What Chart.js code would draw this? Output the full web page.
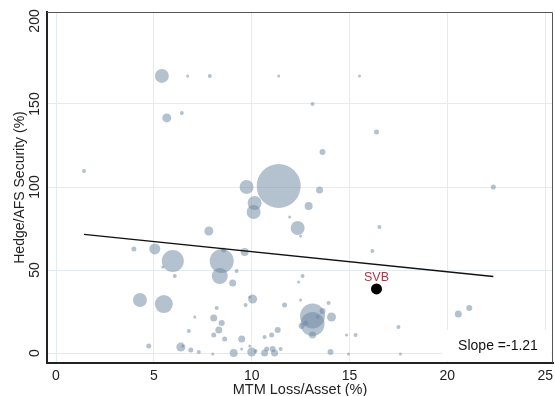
<!DOCTYPE html>
<html>
<head>
<meta charset="utf-8">
<script src="https://cdn.jsdelivr.net/npm/chart.js@4/dist/chart.umd.min.js"></script>
<style>
  html, body { margin: 0; padding: 0; background: #fff; }
  #wrap { width: 555px; height: 396px; }
</style>
</head>
<body>
<div id="wrap"><canvas id="chart" width="555" height="396"></canvas></div>
<script>
(() => {
  // Banks: MTM loss / assets (%), hedged share of AFS securities (%), bubble size (assets)
  const mtmLoss = [
    5.41, 6.73, 7.86, 11.38, 15.51, 5.66, 6.43, 1.43, 13.11, 16.38,
    13.62, 13.47, 22.35, 11.38, 9.74, 10.15, 10.10, 12.91, 11.94, 12.35,
    12.50, 7.81, 3.98, 5.05, 5.97, 5.46, 6.07, 8.47, 8.57, 9.64,
    9.23, 8.37, 12.60, 12.40, 16.53, 16.17, 9.03, 4.29, 5.51, 10.05,
    9.90, 8.21, 9.69, 11.68, 12.50, 13.93, 13.11, 13.11, 13.62, 14.08,
    13.37, 12.76, 12.55, 13.11, 8.06, 8.47, 7.09, 6.79, 8.06, 8.32,
    8.62, 9.49, 10.66, 11.02, 11.33, 4.74, 6.38, 6.48, 6.89, 7.30,
    8.01, 9.08, 9.49, 9.90, 10.00, 10.20, 10.66, 10.77, 11.07, 11.17,
    11.48, 14.03, 14.95, 17.60, 14.85, 15.31, 17.50, 20.56, 21.12
  ];
  const hedgeAfs = [
    166.9, 166.9, 166.9, 166.9, 166.9, 141.6, 144.6, 109.6, 150.0, 133.1,
    121.1, 98.2, 100.0, 100.6, 100.0, 90.4, 84.9, 88.6, 81.9, 75.3,
    70.5, 73.5, 62.7, 62.7, 55.4, 51.8, 46.4, 55.4, 62.0, 60.8,
    49.4, 46.4, 46.4, 42.8, 75.9, 61.4, 42.2, 31.9, 29.5, 32.5,
    33.7, 27.1, 28.9, 28.9, 31.9, 30.1, 22.3, 17.5, 25.3, 21.7,
    21.7, 18.1, 16.3, 10.8, 21.1, 18.1, 21.7, 13.3, 10.8, 13.9,
    8.4, 8.4, 9.6, 10.8, 13.9, 4.2, 3.6, 4.2, 1.8, 0.6,
    -0.6, 0.0, 2.4, 4.2, 0.6, 1.2, 0.0, 2.4, 2.4, 0.0,
    2.4, 0.6, -0.6, -0.6, 10.8, 10.8, 15.7, 23.5, 27.1
  ];
  const bankSize = [
    7, 1.5, 2, 1.5, 1.5, 4.5, 2, 2, 2, 2.5,
    3, 3.5, 2.5, 22, 7, 7, 7, 4, 1.5, 7,
    1.5, 4.5, 2.5, 5.5, 11, 1.5, 2, 12, 2.5, 4,
    2, 8, 2, 1.5, 2, 2, 3.5, 7, 9, 4.5,
    1.5, 2, 2, 2.5, 1.5, 2, 12.5, 12, 3, 4.5,
    2, 2.5, 3, 3.5, 3.5, 3, 1.5, 2, 2.5, 3.5,
    2.5, 3.5, 2, 2.5, 3, 2.5, 4.5, 1.5, 2.5, 2,
    1.5, 4, 1.5, 1.5, 4.5, 2, 3.5, 2.5, 3, 3.5,
    2, 3, 1.5, 1.5, 1.5, 2, 2, 3.5, 3
  ];

  // SVB highlighted separately
  const svbPoint = { x: 16.38, y: 38.6, r: 5.5 };
  const svbLabel = "SVB";

  // Linear fit
  const fitX = [1.43, 22.35];
  const fitSlope = -1.21;
  const fitIntercept = 73.2;
  const slopeText = "Slope =-1.21";

  const xTicks = [0, 5, 10, 15, 20, 25];
  const yTicks = [0, 50, 100, 150, 200];

  const FONT = "'Liberation Sans', Arial, sans-serif";

  const bubbles = mtmLoss.map((x, i) => ({ x, y: hedgeAfs[i], r: bankSize[i] }));
  const fitLine = fitX.map(x => ({ x, y: fitIntercept + fitSlope * x }));

  // frame, slope box, SVB label
  const extras = {
    id: "extras",
    beforeDatasetsDraw(chart) {
      const { ctx, chartArea: a } = chart;
      ctx.save();
      ctx.strokeStyle = "#555";
      ctx.lineWidth = 1;
      ctx.beginPath();
      ctx.moveTo(a.left, a.top + 0.5);
      ctx.lineTo(a.right - 0.5, a.top + 0.5);
      ctx.lineTo(a.right - 0.5, a.bottom);
      ctx.stroke();
      // slope legend box
      ctx.fillStyle = "#fff";
      ctx.fillRect(a.right - 111, a.bottom - 33, 109, 31);
      ctx.restore();
    },
    afterDatasetsDraw(chart) {
      const { ctx, chartArea: a, scales } = chart;
      ctx.save();
      ctx.fillStyle = "#111";
      ctx.font = "14px " + FONT;
      ctx.textAlign = "center";
      ctx.textBaseline = "middle";
      ctx.fillText(slopeText, a.right - 55, a.bottom - 17);
      ctx.fillStyle = "#a33a4a";
      ctx.font = "12.5px " + FONT;
      ctx.fillText(svbLabel, scales.x.getPixelForValue(svbPoint.x), scales.y.getPixelForValue(svbPoint.y) - 11);
      ctx.restore();
    }
  };

  new Chart(document.getElementById("chart"), {
    data: {
      datasets: [
        {
          type: "bubble",
          data: [svbPoint],
          backgroundColor: "#000",
          borderWidth: 0,
          order: 0
        },
        {
          type: "line",
          data: fitLine,
          borderColor: "#111",
          borderWidth: 1.5,
          pointRadius: 0,
          fill: false,
          order: 1
        },
        {
          type: "bubble",
          data: bubbles,
          backgroundColor: "rgba(105,133,160,0.5)",
          borderWidth: 0,
          order: 2
        }
      ]
    },
    options: {
      responsive: false,
      animation: false,
      devicePixelRatio: 1,
      layout: { autoPadding: false, padding: { top: 12, right: 2, left: 0, bottom: 0 } },
      plugins: { legend: { display: false }, tooltip: { enabled: false } },
      scales: {
        x: {
          type: "linear",
          min: -0.46,
          max: 25.4,
          afterBuildTicks: s => { s.ticks = xTicks.map(v => ({ value: v })); },
          afterFit: s => { s.height = 33; s.paddingLeft = 0; s.paddingRight = 0; },
          grid: { color: "#e3ecee", lineWidth: 1, drawTicks: false },
          border: { color: "#222", width: 2 },
          ticks: { color: "#222", font: { family: FONT, size: 14 }, padding: 5 },
          title: { display: true, text: "MTM Loss/Asset (%)", color: "#222", font: { family: FONT, size: 14.5 }, padding: { top: 0, bottom: -3 } }
        },
        y: {
          type: "linear",
          min: -6,
          max: 205.4,
          afterBuildTicks: s => { s.ticks = yTicks.map(v => ({ value: v })); },
          afterFit: s => { s.width = 47; s.paddingTop = 0; s.paddingBottom = 0; },
          grid: {
            color: c => (c.tick && c.tick.value === 200 ? "rgba(0,0,0,0)" : "#e3ecee"),
            lineWidth: 1,
            drawTicks: false
          },
          border: { color: "#222", width: 2 },
          ticks: { color: "#222", font: { family: FONT, size: 14 }, minRotation: 90, maxRotation: 90, crossAlign: "center", padding: 0 },
          title: { display: true, text: "Hedge/AFS Security (%)", color: "#222", font: { family: FONT, size: 14 }, padding: { top: 12, bottom: 0 } }
        }
      }
    },
    plugins: [extras]
  });
})();
</script>
</body>
</html>
